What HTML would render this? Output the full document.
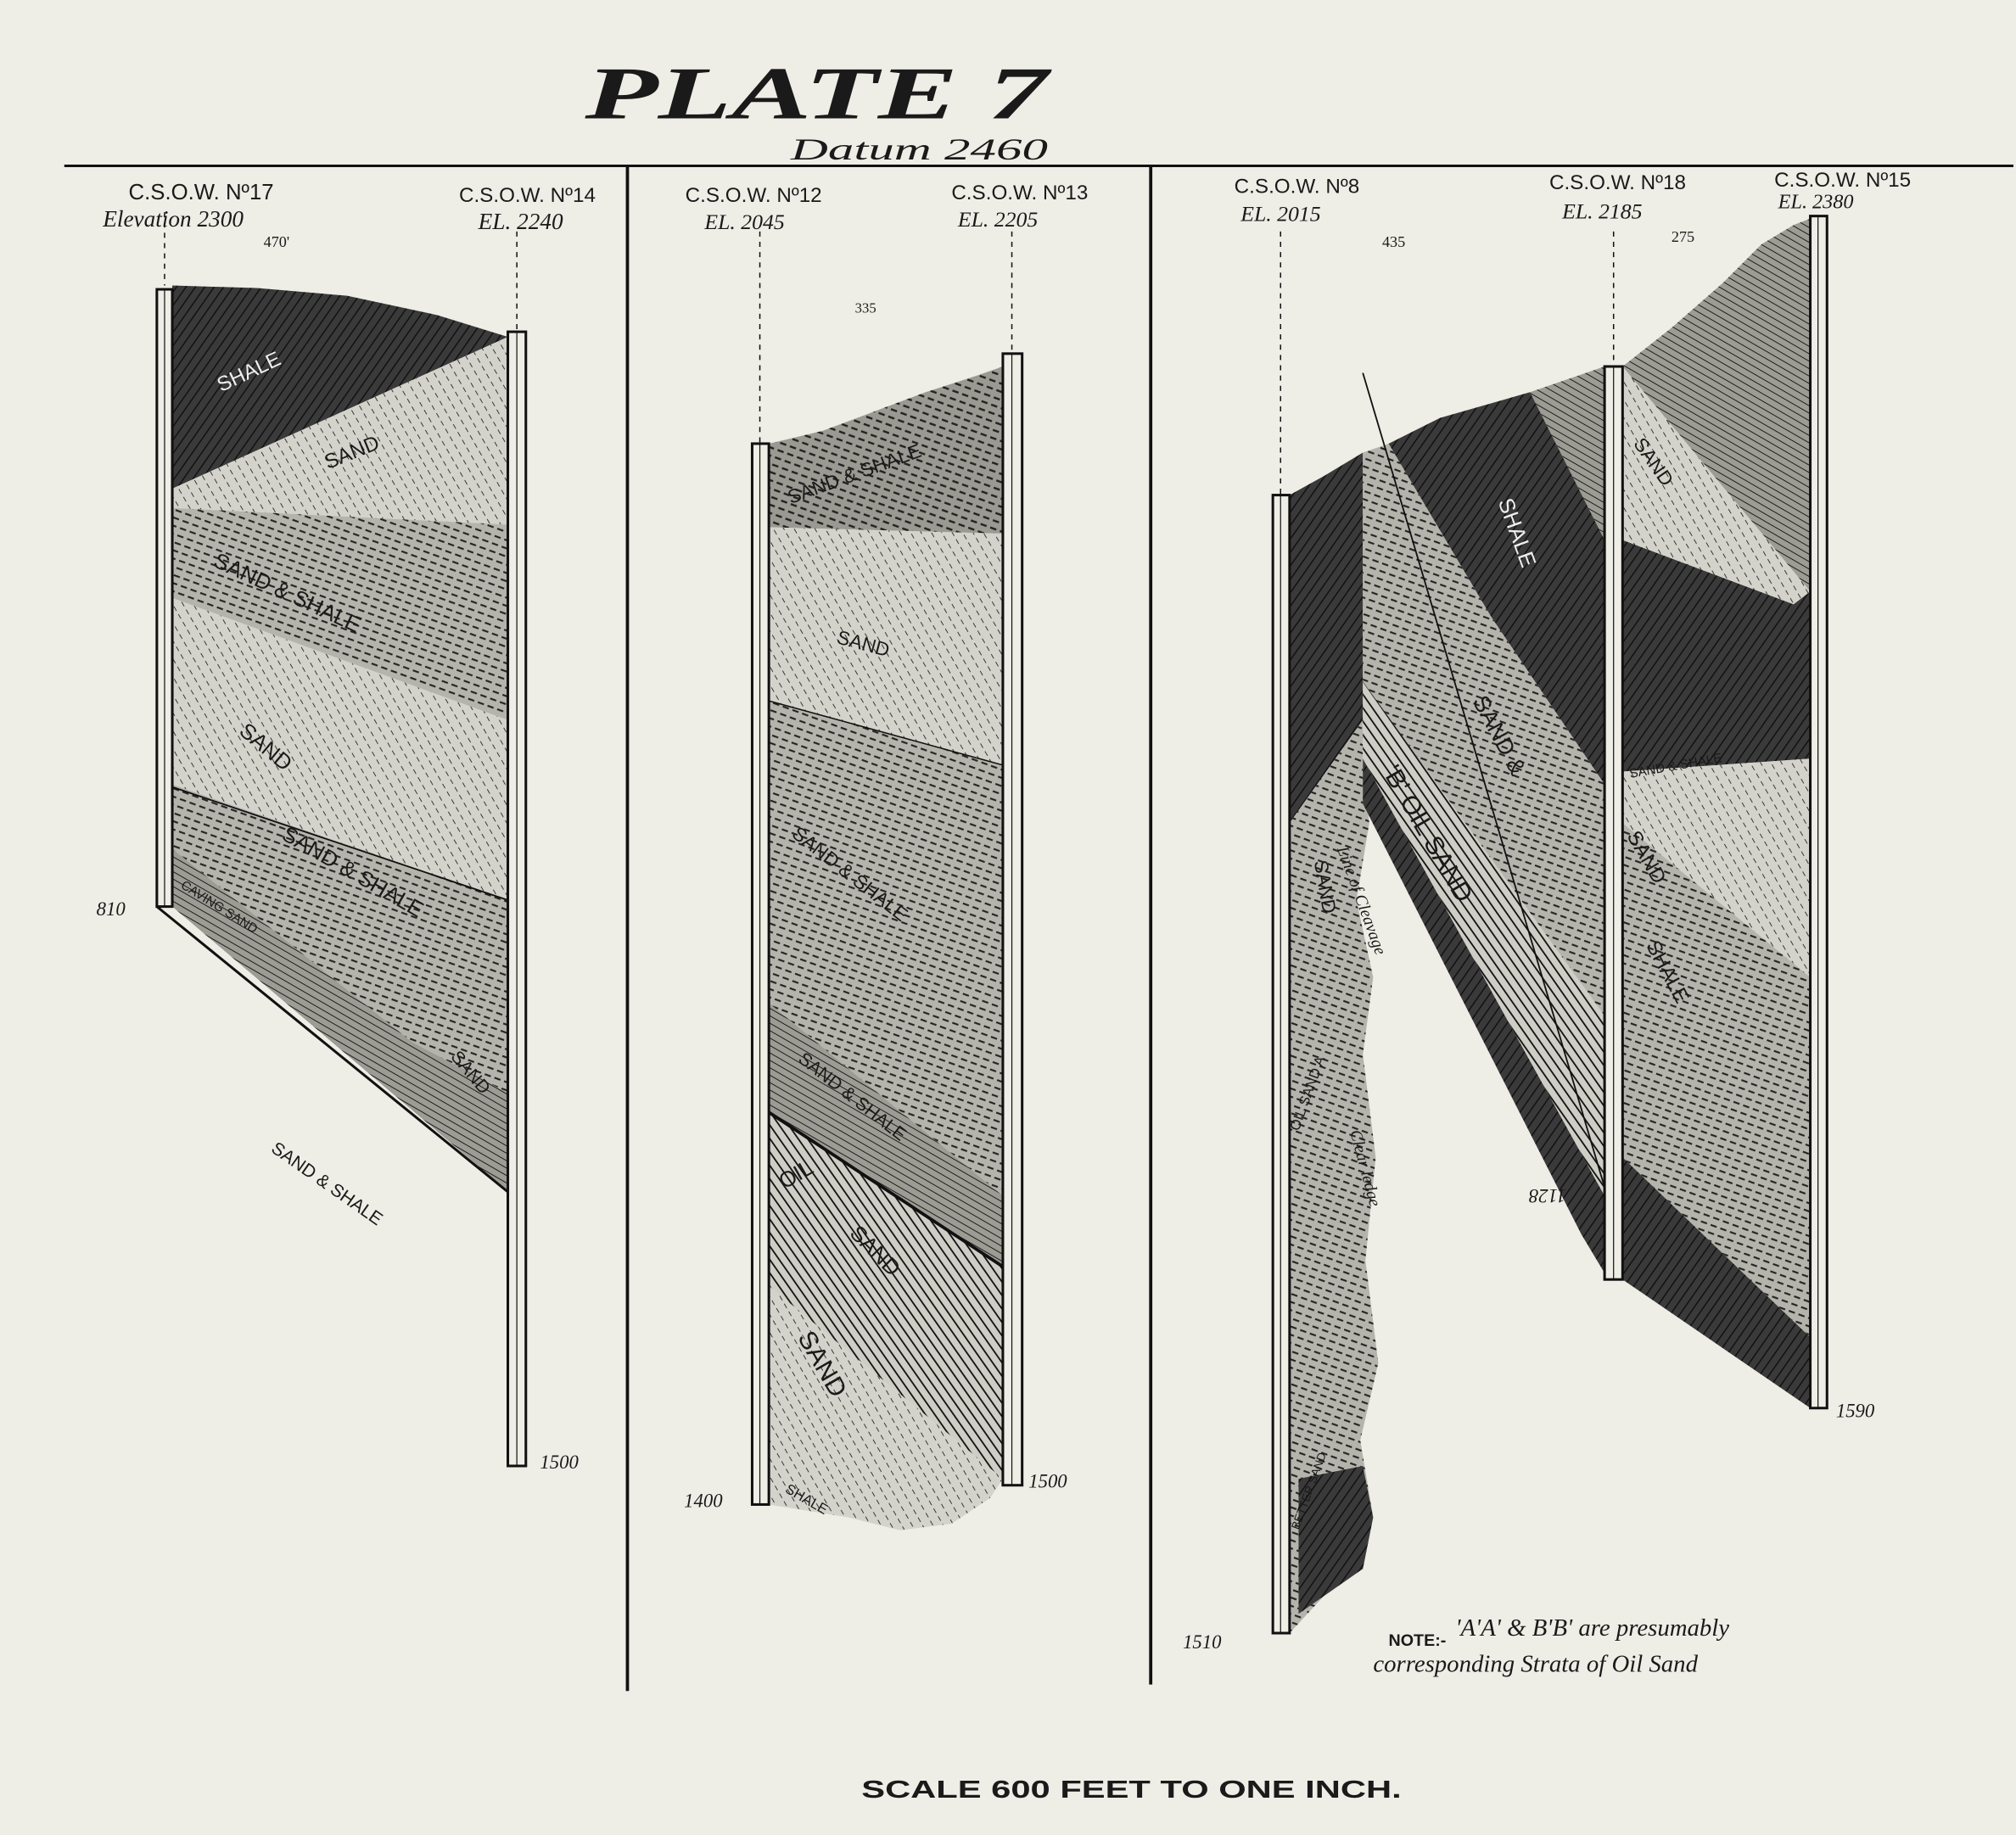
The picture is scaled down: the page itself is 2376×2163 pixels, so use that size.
<!DOCTYPE html>
<html><head><meta charset="utf-8"><style>
html,body{margin:0;padding:0;background:#eeede6;}
svg{display:block;}
text{font-family:"Liberation Serif",serif;fill:#1a1a1a;}
.s{font-family:"Liberation Sans",sans-serif;}
</style></head><body>
<svg width="2376" height="2163" viewBox="0 0 1568 1427" preserveAspectRatio="none" xmlns="http://www.w3.org/2000/svg">
<defs>
<pattern id="hd" width="6" height="6" patternUnits="userSpaceOnUse" patternTransform="rotate(35)"><rect width="6" height="6" fill="#3a3a3a"/><line x1="0" y1="0" x2="0" y2="6" stroke="#111" stroke-width="2"/></pattern>
<pattern id="hl" width="7" height="7" patternUnits="userSpaceOnUse" patternTransform="rotate(-30)"><rect width="7" height="7" fill="#d4d3cb"/><line x1="0" y1="0" x2="0" y2="4" stroke="#333" stroke-width="1.3"/></pattern>
<pattern id="hm" width="8" height="6" patternUnits="userSpaceOnUse" patternTransform="rotate(20)"><rect width="8" height="6" fill="#b5b4ac"/><line x1="0" y1="2" x2="5" y2="2" stroke="#222" stroke-width="1.4"/></pattern>
<pattern id="hm2" width="8" height="6" patternUnits="userSpaceOnUse" patternTransform="rotate(20)"><rect width="8" height="6" fill="#9a9992"/><line x1="0" y1="2" x2="5" y2="2" stroke="#222" stroke-width="1.6"/></pattern>
<pattern id="hs" width="6" height="6" patternUnits="userSpaceOnUse" patternTransform="rotate(-35)"><rect width="6" height="6" fill="#cfcec6"/><line x1="0" y1="0" x2="0" y2="6" stroke="#111" stroke-width="2.4"/></pattern>
<pattern id="hv" width="5" height="5" patternUnits="userSpaceOnUse" patternTransform="rotate(-60)"><rect width="5" height="5" fill="#9c9b94"/><line x1="0" y1="0" x2="0" y2="5" stroke="#111" stroke-width="1.2"/></pattern>
</defs>
<rect width="1568" height="1427" fill="#eeede6"/>

<text x="455" y="92" font-size="58" font-style="italic" font-weight="bold" textLength="360" lengthAdjust="spacingAndGlyphs">PLATE 7</text>
<text x="615" y="124" font-size="24" font-style="italic" textLength="200" lengthAdjust="spacingAndGlyphs">Datum 2460</text>
<line x1="50" y1="129" x2="1566" y2="129" stroke="#111" stroke-width="2"/>
<line x1="488" y1="129" x2="488" y2="1315" stroke="#111" stroke-width="2.5"/>
<line x1="895" y1="129" x2="895" y2="1310" stroke="#111" stroke-width="2.5"/>

<!-- LEFT PANEL -->
<polygon points="134,222 200,224 270,230 340,245 395,262 134,380" fill="url(#hd)"/>
<polygon points="134,380 395,262 395,408 134,395" fill="url(#hl)"/>
<polygon points="134,395 395,408 395,560 134,465" fill="url(#hm)"/>
<polygon points="134,465 395,560 395,700 134,610" fill="url(#hl)"/>
<polygon points="134,610 395,700 395,850 320,810 134,660" fill="url(#hm)"/>
<polygon points="134,660 320,810 395,850 405,935 134,705" fill="url(#hv)"/>
<line x1="122" y1="705" x2="405" y2="935" stroke="#111" stroke-width="2"/>
<line x1="134" y1="612" x2="395" y2="700" stroke="#111" stroke-width="1.2"/>
<rect x="122" y="225" width="12" height="480" fill="#eeede6" stroke="#111" stroke-width="2"/>
<line x1="128" y1="225" x2="128" y2="705" stroke="#111" stroke-width="0.8"/>
<rect x="395" y="258" width="14" height="882" fill="#eeede6" stroke="#111" stroke-width="2"/>
<line x1="402" y1="258" x2="402" y2="1140" stroke="#111" stroke-width="0.8"/>
<line x1="128" y1="165" x2="128" y2="222" stroke="#111" stroke-dasharray="4,4"/>
<line x1="402" y1="180" x2="402" y2="258" stroke="#111" stroke-dasharray="4,4"/>
<text x="100" y="155" font-size="17" class="s">C.S.O.W. Nº17</text>
<text x="80" y="176" font-size="18" font-style="italic">Elevation 2300</text>
<text x="205" y="192" font-size="12">470'</text>
<text x="357" y="157" font-size="16" class="s">C.S.O.W. Nº14</text>
<text x="372" y="178" font-size="18" font-style="italic">EL. 2240</text>
<text x="172" y="305" font-size="16" class="s" transform="rotate(-25 172 305)" style="fill:#eee">SHALE</text>
<text x="255" y="365" font-size="16" class="s" transform="rotate(-22 255 365)">SAND</text>
<text x="165" y="440" font-size="17" class="s" transform="rotate(25 165 440)">SAND &amp; SHALE</text>
<text x="185" y="570" font-size="17" class="s" transform="rotate(40 185 570)">SAND</text>
<text x="218" y="652" font-size="17" class="s" transform="rotate(30 218 652)">SAND &amp; SHALE</text>
<text x="350" y="822" font-size="14" class="s" transform="rotate(50 350 822)">SAND</text>
<text x="140" y="690" font-size="10" class="s" transform="rotate(32 140 690)">CAVING SAND</text>
<text x="210" y="895" font-size="14" class="s" transform="rotate(35 210 895)">SAND &amp; SHALE</text>
<text x="75" y="712" font-size="15" font-style="italic">810</text>
<text x="420" y="1142" font-size="15" font-style="italic">1500</text>

<!-- MIDDLE PANEL -->
<polygon points="598,345 640,335 680,320 720,305 760,292 780,285 780,415 598,410" fill="url(#hm2)"/>
<polygon points="598,410 780,415 780,595 598,545" fill="url(#hl)"/>
<polygon points="598,545 780,595 780,930 598,780" fill="url(#hm)"/>
<polygon points="598,780 780,930 780,985 598,865" fill="url(#hv)"/>
<polygon points="598,865 780,985 780,1150 598,1000" fill="url(#hs)"/>
<polygon points="598,1000 780,1150 770,1165 740,1185 700,1190 660,1180 598,1170" fill="url(#hl)"/>
<line x1="598" y1="865" x2="780" y2="985" stroke="#111" stroke-width="2.5"/>
<line x1="598" y1="545" x2="780" y2="595" stroke="#111" stroke-width="1"/>
<rect x="585" y="345" width="13" height="825" fill="#eeede6" stroke="#111" stroke-width="2"/>
<line x1="591" y1="345" x2="591" y2="1170" stroke="#111" stroke-width="0.8"/>
<rect x="780" y="275" width="15" height="880" fill="#eeede6" stroke="#111" stroke-width="2"/>
<line x1="787" y1="275" x2="787" y2="1155" stroke="#111" stroke-width="0.8"/>
<line x1="591" y1="180" x2="591" y2="345" stroke="#111" stroke-dasharray="4,4"/>
<line x1="787" y1="180" x2="787" y2="275" stroke="#111" stroke-dasharray="4,4"/>
<text x="533" y="157" font-size="16" class="s">C.S.O.W. Nº12</text>
<text x="548" y="178" font-size="17" font-style="italic">EL. 2045</text>
<text x="740" y="155" font-size="16" class="s">C.S.O.W. Nº13</text>
<text x="745" y="176" font-size="17" font-style="italic">EL. 2205</text>
<text x="665" y="243" font-size="11">335</text>
<text x="615" y="392" font-size="15" class="s" transform="rotate(-20 615 392)">SAND &amp; SHALE</text>
<text x="650" y="500" font-size="15" class="s" transform="rotate(15 650 500)">SAND</text>
<text x="615" y="650" font-size="15" class="s" transform="rotate(38 615 650)">SAND &amp; SHALE</text>
<text x="620" y="825" font-size="14" class="s" transform="rotate(38 620 825)">SAND &amp; SHALE</text>
<text x="610" y="925" font-size="17" class="s" transform="rotate(-30 610 925)">OIL</text>
<text x="660" y="960" font-size="17" class="s" transform="rotate(45 660 960)">SAND</text>
<text x="620" y="1040" font-size="20" class="s" transform="rotate(60 620 1040)">SAND</text>
<text x="610" y="1160" font-size="11" class="s" transform="rotate(30 610 1160)">SHALE</text>
<text x="532" y="1172" font-size="15" font-style="italic">1400</text>
<text x="800" y="1157" font-size="15" font-style="italic">1500</text>

<!-- RIGHT PANEL -->
<polygon points="1003,385 1030,370 1060,352 1060,560 1003,640" fill="url(#hd)"/>
<polygon points="1003,640 1060,560 1060,600 1065,640 1055,700 1068,760 1060,820 1070,900 1062,980 1072,1060 1058,1120 1068,1180 1060,1220 1040,1230 1003,1270" fill="url(#hm)"/>
<polygon points="1010,1150 1060,1140 1068,1180 1060,1220 1010,1255" fill="url(#hd)"/>
<polygon points="1190,305 1248,285 1248,420" fill="url(#hv)"/>
<polygon points="1080,345 1120,325 1190,305 1248,420 1248,610 1160,480" fill="url(#hd)"/>
<polygon points="1060,352 1080,345 1160,480 1248,610 1248,790 1060,530" fill="url(#hm)"/>
<polygon points="1060,530 1248,790 1248,930 1060,590" fill="url(#hs)"/>
<polygon points="1060,590 1248,930 1248,990 1230,960 1060,625" fill="url(#hd)"/>
<polygon points="1262,285 1300,255 1340,220 1370,190 1395,175 1408,170 1408,460" fill="url(#hv)"/>
<polygon points="1262,285 1408,460 1395,470 1262,420" fill="url(#hl)"/>
<polygon points="1262,420 1395,470 1408,460 1408,590 1262,600" fill="url(#hd)"/>
<polygon points="1262,600 1408,590 1408,760 1262,640" fill="url(#hl)"/>
<polygon points="1262,640 1408,760 1408,1040 1262,900" fill="url(#hm)"/>
<polygon points="1262,900 1408,1040 1408,1095 1262,995" fill="url(#hd)"/>
<line x1="1060" y1="290" x2="1250" y2="930" stroke="#111" stroke-width="1.2"/>
<rect x="990" y="385" width="13" height="885" fill="#eeede6" stroke="#111" stroke-width="2"/>
<line x1="996" y1="385" x2="996" y2="1270" stroke="#111" stroke-width="0.8"/>
<rect x="1248" y="285" width="14" height="710" fill="#eeede6" stroke="#111" stroke-width="2"/>
<line x1="1255" y1="285" x2="1255" y2="995" stroke="#111" stroke-width="0.8"/>
<rect x="1408" y="168" width="13" height="927" fill="#eeede6" stroke="#111" stroke-width="2"/>
<line x1="1414" y1="168" x2="1414" y2="1095" stroke="#111" stroke-width="0.8"/>
<line x1="996" y1="180" x2="996" y2="385" stroke="#111" stroke-dasharray="4,4"/>
<line x1="1255" y1="180" x2="1255" y2="285" stroke="#111" stroke-dasharray="4,4"/>
<text x="960" y="150" font-size="16" class="s">C.S.O.W. Nº8</text>
<text x="965" y="172" font-size="17" font-style="italic">EL. 2015</text>
<text x="1075" y="192" font-size="12">435</text>
<text x="1205" y="147" font-size="16" class="s">C.S.O.W. Nº18</text>
<text x="1215" y="170" font-size="17" font-style="italic">EL. 2185</text>
<text x="1300" y="188" font-size="12">275</text>
<text x="1380" y="145" font-size="16" class="s">C.S.O.W. Nº15</text>
<text x="1383" y="162" font-size="16" font-style="italic">EL. 2380</text>
<text x="1165" y="390" font-size="17" class="s" transform="rotate(70 1165 390)" style="fill:#eee">SHALE</text>
<text x="1145" y="545" font-size="18" class="s" transform="rotate(62 1145 545)">SAND &amp;</text>
<text x="1075" y="600" font-size="20" class="s" transform="rotate(60 1075 600)">'B' OIL SAND</text>
<text x="1270" y="345" font-size="15" class="s" transform="rotate(55 1270 345)">SAND</text>
<text x="1265" y="650" font-size="16" class="s" transform="rotate(60 1265 650)">SAND</text>
<text x="1280" y="735" font-size="16" class="s" transform="rotate(62 1280 735)">SHALE</text>
<text x="1268" y="605" font-size="10" class="s" transform="rotate(-10 1268 605)">SAND &amp; SHALE</text>
<text x="1022" y="670" font-size="15" class="s" transform="rotate(80 1022 670)">SAND</text>
<text x="1010" y="880" font-size="11" class="s" transform="rotate(-70 1010 880)">OIL SAND A</text>
<text x="1040" y="660" font-size="13" font-style="italic" transform="rotate(70 1040 660)">Line of Cleavage</text>
<text x="1050" y="880" font-size="13" font-style="italic" transform="rotate(75 1050 880)">Clear ledge</text>
<text x="1010" y="1190" font-size="9" class="s" transform="rotate(-70 1010 1190)">BETTER SAND</text>
<text x="1172" y="935" font-size="15" font-style="italic" transform="rotate(180 1195 930)">1128</text>
<text x="920" y="1282" font-size="15" font-style="italic">1510</text>
<text x="1428" y="1102" font-size="15" font-style="italic">1590</text>
<text x="1080" y="1280" font-size="13" class="s" font-weight="bold">NOTE:-</text>
<text x="1132" y="1272" font-size="19" font-style="italic">'A'A' &amp; B'B' are presumably</text>
<text x="1068" y="1300" font-size="19" font-style="italic">corresponding Strata of Oil Sand</text>

<text x="670" y="1398" font-size="19" class="s" font-weight="bold" textLength="420" lengthAdjust="spacingAndGlyphs">SCALE 600 FEET TO ONE INCH.</text>
</svg>
</body></html>
